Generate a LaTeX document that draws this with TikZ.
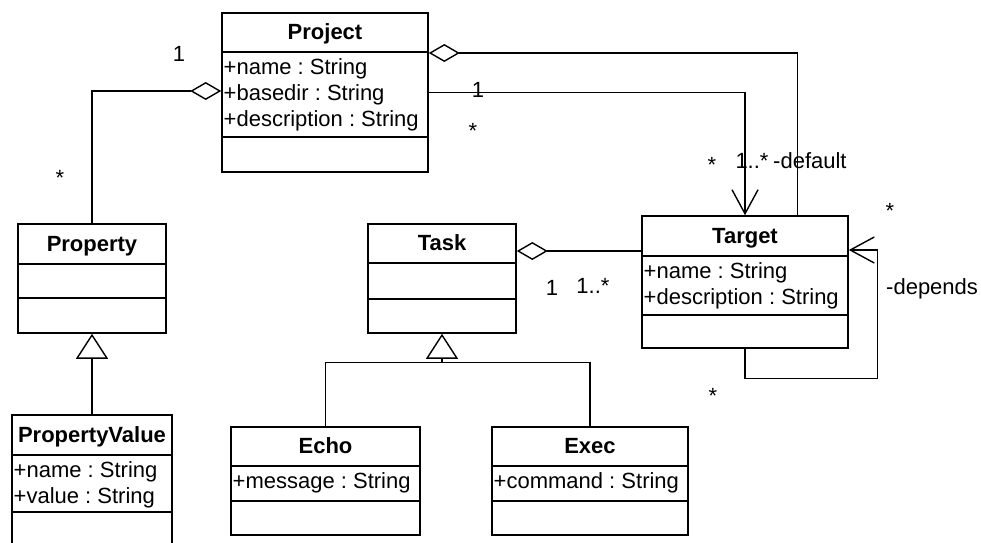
\documentclass[tikz,border=0pt]{standalone}
\usepackage{fontspec}
\setmainfont{Liberation Sans}
\usetikzlibrary{arrows.meta,fit}
\frenchspacing

\newcommand\diagfont{\fontsize{22pt}{26pt}\selectfont}

\tikzset{
  box/.style={draw, line width=1.6pt, inner sep=0pt},
  divider/.style={line width=1.6pt},
  title/.style={font=\diagfont\bfseries, anchor=base, inner sep=0pt},
  attr/.style={font=\diagfont, anchor=base west, inner sep=0pt},
  mult/.style={font=\diagfont, anchor=base, inner sep=0pt},
  link/.style={line width=1.1pt},
  aggr/.style={link, -{Diamond[open, length=31pt, width=18pt, line width=1.4pt]}},
  nav/.style={link, -{Straight Barb[length=24pt, width=26pt, line width=1.4pt]}},
  inherit/.style={link, -{Triangle[open, length=25pt, width=32pt, line width=1.4pt]}},
}

% class box: name, left, top, right, bottom, header divider, attribute divider, title
\newcommand\umlclass[8]{%
  \node[box, fit={(#2,#3) (#4,#5)}] (#1) {};
  \draw[divider] (#2,#6) -- (#4,#6);
  \draw[divider] (#2,#7) -- (#4,#7);
  \node[title] (#1-title) at ({(#2+#4)/2},{(#3+#6)/2+7}) {#8};
}
% attribute lines: name, left, header divider, list
\newcommand\umlattrs[4]{%
  \foreach \a [count=\i from 0] in {#4} {
    \node[attr] (#1-attr\i) at (#2+1.5, #3+22.5+26*\i) {\a};
  }
}

\begin{document}
\begin{tikzpicture}[x=1pt, y=-1pt]
\useasboundingbox (0,0) rectangle (981,542);

% classes
\umlclass{project}{222}{13}{428}{172}{52}{137}{Project}
\umlattrs{project}{222}{52}{+name : String, +basedir : String, +description : String}

\umlclass{property}{18}{224}{166}{333}{264}{298}{Property}

\umlclass{pv}{12}{415}{172}{560}{455}{512}{PropertyValue}
\umlattrs{pv}{12}{455}{+name : String, +value : String}

\umlclass{task}{368}{224}{516}{333}{263}{299}{Task}

\umlclass{target}{642}{216}{848}{348}{256}{315}{Target}
\umlattrs{target}{642}{256}{+name : String, +description : String}

\umlclass{echo}{231}{427}{420}{535}{466}{501}{Echo}
\umlattrs{echo}{231}{466}{+message : String}

\umlclass{exec}{492}{427}{688}{535}{466}{501}{Exec}
\umlattrs{exec}{492}{466}{+command : String}

% associations
\draw[aggr] (property.north) |- ([yshift=1.5pt]project.west);
\draw[aggr] ([xshift=-51pt]target.north east) |- ([yshift=39.5pt]project.east);
\draw[nav] (project.east) -| (target.north);

\coordinate (taskAgg) at ([yshift=27.5pt]task.east);
\draw[aggr] (taskAgg -| target.west) -- (taskAgg);

\draw[nav] (target.south) -- ++(0,30) -| ([xshift=29pt,yshift=32pt]target.east)
  -- ([yshift=32pt]target.east);

% generalizations
\coordinate (taskJ) at ([yshift=-29pt]task.south);
\draw[link] (echo.north) |- (taskJ) -| (exec.north);
\draw[inherit] (taskJ) -- (task.south);
\draw[inherit] (pv.north) -- (property.south);

% multiplicities and role names
\node[mult] (m1) at (179,61) {1};
\node[mult] (m2) at (60,185) {*};
\node[mult] (m3) at (478,97) {1};
\node[mult] (m4) at (473,138) {*};
\node[mult] (m5) at (712,172) {*};
\node[mult] (m6) at (752,168) {1..*};
\node[mult, anchor=base west] (m7) at (773,168) {-default};
\node[mult] (m8) at (890,218) {*};
\node[mult, anchor=base west] (m9) at (886,294) {-depends};
\node[mult] (m10) at (713,403) {*};
\node[mult] (m11) at (552,295) {1};
\node[mult] (m12) at (593,293) {1..*};
\end{tikzpicture}
\end{document}
